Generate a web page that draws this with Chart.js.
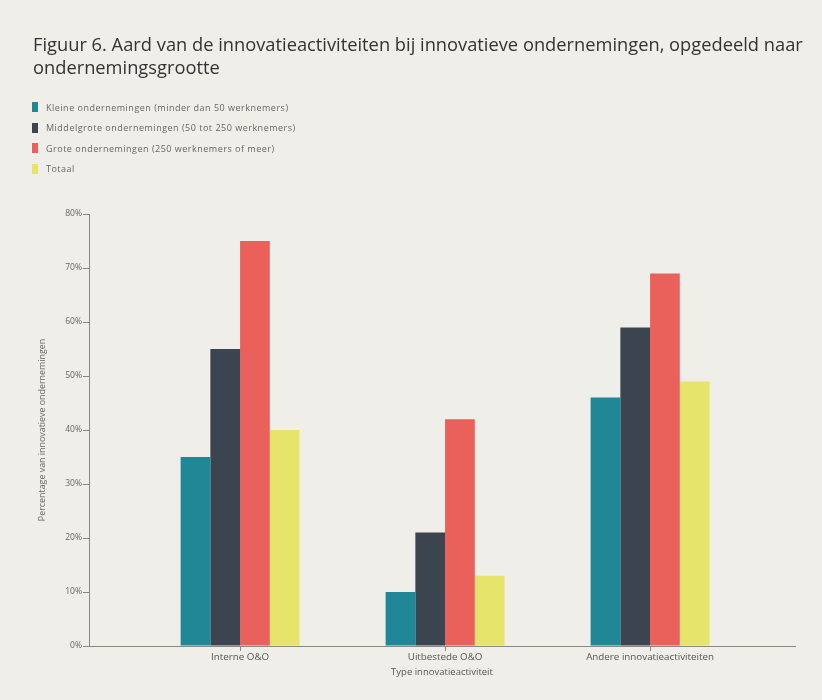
<!DOCTYPE html>
<html>
<head>
<meta charset="utf-8">
<script src="https://cdn.jsdelivr.net/npm/chart.js@4/dist/chart.umd.min.js"></script>
<style>
  html, body { margin: 0; padding: 0; background: #efeee9; }
  #wrap { position: relative; width: 822px; height: 700px; overflow: hidden; }
  #chart { position: absolute; left: 0; top: 0; }
  #titel { position: absolute; left: 33px; top: 32px; width: 785px; font-family: 'Open Sans', sans-serif; font-size: 18.3px; line-height: 23px; color: #333; }
  #legende { position: absolute; left: 32px; top: 97px; font-family: 'Open Sans', sans-serif; font-size: 9px; letter-spacing: 0.5px; color: #666; }
  .leg-item { display: flex; align-items: center; height: 20.5px; }
  .leg-box { width: 6px; height: 10px; margin-right: 8px; }
</style>
</head>
<body>
<div id="wrap">
  <canvas id="chart" width="822" height="700"></canvas>
  <div id="titel">Figuur 6. Aard van de innovatieactiviteiten bij innovatieve ondernemingen, opgedeeld naar ondernemingsgrootte</div>
  <div id="legende"></div>
</div>
<script>
const FONT = "'Open Sans', sans-serif";

// categorieën (x-as)
const CATEGORIEEN = ['Interne O&O', 'Uitbestede O&O', 'Andere innovatieactiviteiten'];

// reeksen (% van innovatieve ondernemingen)
const KLEIN = [35, 10, 46];
const MIDDELGROOT = [55, 21, 59];
const GROOT = [75, 42, 69];
const TOTAAL = [40, 13, 49];

const REEKS_NAMEN = [
  'Kleine ondernemingen (minder dan 50 werknemers)',
  'Middelgrote ondernemingen (50 tot 250 werknemers)',
  'Grote ondernemingen (250 werknemers of meer)',
  'Totaal'
];
const KLEUREN = ['#1f8795', '#3c4450', '#e9615a', '#e7e46c'];

const Y_TICKS = [0, 10, 20, 30, 40, 50, 60, 70, 80];

const reeksen = [KLEIN, MIDDELGROOT, GROOT, TOTAAL];

const datasets = reeksen.map((r, i) => ({
  label: REEKS_NAMEN[i],
  data: r.map((v, j) => ({ x: j, y: v })),
  backgroundColor: KLEUREN[i],
  borderWidth: 0,
  categoryPercentage: 0.58,
  barPercentage: 1
}));

// legende als html
document.getElementById('legende').innerHTML = REEKS_NAMEN.map((n, i) =>
  `<div class="leg-item"><div class="leg-box" style="background:${KLEUREN[i]}"></div>${n}</div>`).join('');

const PAD = { top: 214, right: 27, left: 37, bottom: 22 };

new Chart(document.getElementById('chart'), {
  type: 'bar',
  data: { datasets },
  options: {
    responsive: false,
    animation: false,
    layout: { padding: PAD },
    plugins: { legend: { display: false }, tooltip: { enabled: false } },
    scales: {
      x: {
        type: 'linear',
        min: -0.737, max: 2.707,
        offset: false,
        grid: { offset: false, drawOnChartArea: false, tickLength: 5, color: '#888' },
        border: { color: '#888' },
        ticks: {
          stepSize: 1, includeBounds: false, autoSkip: false, maxRotation: 0,
          padding: 0, color: '#555', font: { family: FONT, size: 9.8 },
          callback: v => CATEGORIEEN[v] ?? ''
        },
        title: { display: true, text: 'Type innovatieactiviteit', color: '#555', font: { family: FONT, size: 9.5 }, padding: 0 },
        afterFit: s => { s.height = 700 - 646 - PAD.bottom; }
      },
      y: {
        min: 0, max: 80,
        afterBuildTicks: s => { s.ticks = Y_TICKS.map(v => ({ value: v })); },
        grid: { drawOnChartArea: false, tickLength: 6, color: '#888' },
        border: { color: '#888' },
        ticks: { padding: 1, color: '#666', font: { family: FONT, size: 8.5 }, callback: v => v + '%' },
        title: { display: true, text: 'Percentage van innovatieve ondernemingen', color: '#666', font: { family: FONT, size: 8.9 }, padding: 0 },
        afterFit: s => { s.width = 89 - PAD.left; }
      }
    }
  }
});
</script>
</body>
</html>
